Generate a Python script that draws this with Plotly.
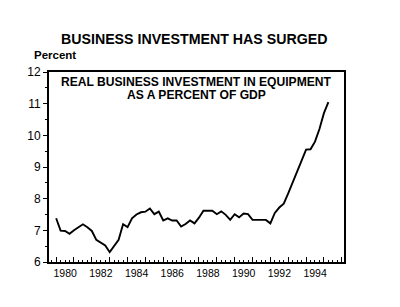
import plotly.graph_objects as go

# Quarterly data, 1980Q1 .. 1995Q2 (percent of GDP)
start_year = 1980
values = [
    7.38, 6.99, 6.98, 6.89,   # 1980
    7.00, 7.10, 7.19, 7.10,   # 1981
    6.98, 6.70, 6.60, 6.52,   # 1982
    6.31, 6.50, 6.70, 7.19,   # 1983
    7.10, 7.38, 7.50, 7.57,   # 1984
    7.59, 7.69, 7.51, 7.59,   # 1985
    7.31, 7.38, 7.31, 7.31,   # 1986
    7.12, 7.20, 7.31, 7.22,   # 1987
    7.40, 7.62, 7.62, 7.62,   # 1988
    7.51, 7.60, 7.49, 7.33,   # 1989
    7.51, 7.41, 7.53, 7.51,   # 1990
    7.33, 7.33, 7.33, 7.33,   # 1991
    7.22, 7.55, 7.72, 7.84,   # 1992
    8.17, 8.50, 8.85, 9.20,   # 1993
    9.55, 9.56, 9.80, 10.20,  # 1994
    10.70, 11.05,             # 1995
]
quarters = [start_year + i / 4 for i in range(len(values))]

year_ticks = list(range(1980, 1997))
year_labels = [str(y) if (y % 2 == 0 and y <= 1994) else "" for y in year_ticks]

title = "BUSINESS INVESTMENT HAS SURGED"
subtitle_lines = ["REAL BUSINESS INVESTMENT IN EQUIPMENT", "AS A PERCENT OF GDP"]
y_title = "Percent"

FONT = "Liberation Sans, Arial, sans-serif"

fig = go.Figure()
fig.add_trace(go.Scatter(
    x=quarters, y=values, mode="lines",
    line=dict(color="black", width=1.9),
    hoverinfo="skip", showlegend=False,
))

annotations = [
    dict(text="<b>" + title + "</b>", xref="paper", yref="paper",
         x=0.49, y=1.0, yshift=33, xanchor="center", yanchor="middle",
         showarrow=False, font=dict(size=14.2, family=FONT)),
    dict(text="<b>" + y_title + "</b>", xref="paper", yref="paper",
         x=0, xshift=-17, y=1.0, yshift=17, xanchor="left", yanchor="middle",
         showarrow=False, font=dict(size=11.5, family=FONT)),
]
for k, line in enumerate(subtitle_lines):
    annotations.append(dict(
        text="<b>" + line + "</b>", xref="paper", yref="paper",
        x=0.5, y=1.0, yshift=-10 - 13 * k, xanchor="center", yanchor="middle",
        showarrow=False, font=dict(size=12.1, family=FONT)))

fig.update_layout(
    width=400, height=307,
    margin=dict(l=49, r=56, t=72, b=45),
    paper_bgcolor="white", plot_bgcolor="white",
    font=dict(family=FONT, color="black"),
    xaxis=dict(
        range=[1979.6, 1996.125],
        tickmode="array", tickvals=year_ticks, ticktext=year_labels,
        ticks="inside", ticklen=5, tickwidth=1, tickcolor="black",
        ticklabelshift=9,
        tickfont=dict(size=10.5, family=FONT),
        minor=dict(ticks="inside", ticklen=2.5, tickwidth=1, tickcolor="black",
                   dtick=0.25, tick0=1980, showgrid=False),
        showline=True, linecolor="black", linewidth=2, mirror=True,
        showgrid=False, zeroline=False,
    ),
    yaxis=dict(
        range=[6, 12], dtick=1, tick0=6,
        ticks="outside", ticklen=4, tickwidth=1, tickcolor="black",
        tickfont=dict(size=12, family=FONT),
        minor=dict(ticks="outside", ticklen=2, tickwidth=1, tickcolor="black",
                   dtick=0.5, tick0=6, showgrid=False),
        showline=True, linecolor="black", linewidth=2, mirror=True,
        showgrid=False, zeroline=False,
    ),
    annotations=annotations,
)

fig.write_html("out.html")
